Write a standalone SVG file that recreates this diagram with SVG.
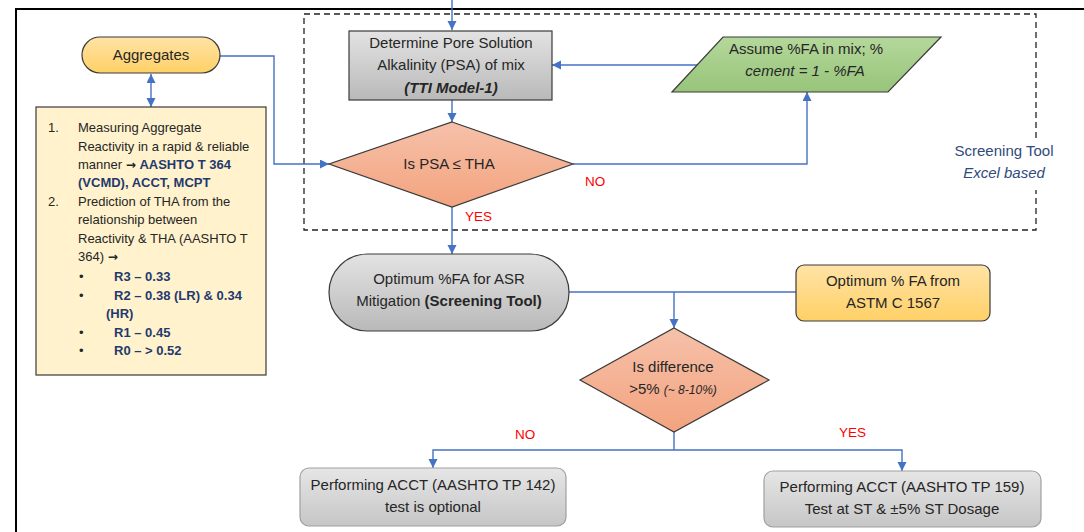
<svg xmlns="http://www.w3.org/2000/svg" width="1084" height="532" viewBox="0 0 1084 532">
  <style>
    .t { font-family: "Liberation Sans", Arial, sans-serif; fill: #262626; }
    .m { font-size: 15px; }
    .s { font-size: 13px; }
    .b { font-weight: bold; }
    .i { font-style: italic; }
    .hl { fill: #1F3A6E; font-weight: bold; }
    .ar { font-family: "DejaVu Sans", sans-serif; font-weight: bold; font-size: 12px; }
    .red { font-family: "Liberation Sans", Arial, sans-serif; font-size: 13.5px; fill: #FF0000; }
    .node { stroke: #3A3A3A; stroke-width: 1.2; }
    .soft { stroke: #A0A0A0; stroke-width: 1.2; }
    .conn { fill: none; stroke: #4472C4; stroke-width: 1.4; }
    .arr { marker-end: url(#ah); }
    .dash { fill: none; stroke: #222; stroke-width: 1.3; stroke-dasharray: 6 4; }
    .note { font-family: "Liberation Sans", Arial, sans-serif; font-size: 15px; fill: #2F4B7C; }
  </style>
  <defs>
    <marker id="ah" markerUnits="userSpaceOnUse" markerWidth="10" markerHeight="10" refX="9" refY="4.5" orient="auto-start-reverse">
      <path d="M0,0 L9,4.5 L0,9 z" fill="#4472C4"/>
    </marker>
    <linearGradient id="gYellow" x1="0" y1="0" x2="0" y2="1">
      <stop offset="0" stop-color="#FFE3A6"/>
      <stop offset="1" stop-color="#FFD066"/>
    </linearGradient>
    <linearGradient id="gGray" x1="0" y1="0" x2="0" y2="1">
      <stop offset="0" stop-color="#E3E3E3"/>
      <stop offset="1" stop-color="#B9B9B9"/>
    </linearGradient>
    <linearGradient id="gLight" x1="0" y1="0" x2="0" y2="1">
      <stop offset="0" stop-color="#E6E6E6"/>
      <stop offset="1" stop-color="#C6C6C6"/>
    </linearGradient>
    <linearGradient id="gSalmon" x1="0" y1="0" x2="0" y2="1">
      <stop offset="0" stop-color="#F6C1AA"/>
      <stop offset="1" stop-color="#F3A37E"/>
    </linearGradient>
    <linearGradient id="gGreen" x1="0" y1="0" x2="0" y2="1">
      <stop offset="0" stop-color="#B4D89B"/>
      <stop offset="1" stop-color="#98C47A"/>
    </linearGradient>
  </defs>

  <rect width="1084" height="532" fill="#FFFFFF"/>
  <!-- page frame -->
  <rect x="16" y="9" width="1100" height="560" fill="none" stroke="#000" stroke-width="2"/>

  <!-- screening tool boundary -->
  <g id="screening-tool">
    <path class="dash" d="M1036,138 V14 H304 V230 H1036 V190"/>
    <text class="note" x="1004" y="156" text-anchor="middle">Screening Tool</text>
    <text class="note i" x="1004" y="178" text-anchor="middle">Excel based</text>
  </g>

  <g id="connectors">
    <path class="conn arr" d="M452,0 V30"/>
    <path class="conn arr" d="M452,100 V122"/>
    <path class="conn arr" d="M220,56 H274 V164 H329"/>
    <path class="conn arr" d="M573,164 H807 V92"/>
    <path class="conn arr" d="M697,65 H552"/>
    <path class="conn arr" d="M452,207 V254"/>
    <path class="conn" d="M569,292 H796"/>
    <path class="conn arr" d="M674,292 V328"/>
    <path class="conn" d="M674,432 V450"/>
    <path class="conn arr" d="M674,450 H433 V468"/>
    <path class="conn arr" d="M674,450 H902 V471"/>
    <path class="conn arr" d="M151,74 V107" marker-start="url(#ah)"/>
    <text class="red" x="585" y="186">NO</text>
    <text class="red" x="465" y="221">YES</text>
    <text class="red" x="515" y="439">NO</text>
    <text class="red" x="839" y="437">YES</text>
  </g>

  <g id="aggregates">
    <rect class="node" x="82" y="37" width="138" height="36" rx="18" fill="url(#gYellow)"/>
    <text class="t m" x="151" y="60" text-anchor="middle">Aggregates</text>
  </g>

  <g id="reactivity-notes">
    <rect class="node" x="36" y="107" width="230" height="268" fill="#FFF2CC"/>
    <g class="t s">
      <text x="48" y="132">1.</text>
      <text x="78" y="132">Measuring  Aggregate</text>
      <text x="78" y="151">Reactivity in a rapid &amp; reliable</text>
      <text x="78" y="169">manner <tspan class="ar">→</tspan> <tspan class="hl">AASHTO T 364</tspan></text>
      <text x="78" y="187" class="hl">(VCMD), ACCT, MCPT</text>
      <text x="48" y="206">2.</text>
      <text x="78" y="206">Prediction of THA from the</text>
      <text x="78" y="224">relationship between</text>
      <text x="78" y="243">Reactivity &amp; THA (AASHTO T</text>
      <text x="78" y="261">364) <tspan class="ar">→</tspan></text>
      <text x="79" y="281">•</text>
      <text x="114" y="281" class="hl">R3 –  0.33</text>
      <text x="79" y="300">•</text>
      <text x="114" y="300" class="hl">R2 –  0.38 (LR) &amp; 0.34</text>
      <text x="106" y="318" class="hl">(HR)</text>
      <text x="79" y="337">•</text>
      <text x="114" y="337" class="hl">R1 –  0.45</text>
      <text x="79" y="355">•</text>
      <text x="114" y="355" class="hl">R0 – &gt; 0.52</text>
    </g>
  </g>

  <g id="psa">
    <rect class="node" x="349" y="31" width="203" height="69" fill="url(#gGray)"/>
    <text class="t m" x="451" y="48" text-anchor="middle">Determine Pore Solution</text>
    <text class="t m" x="451" y="70" text-anchor="middle">Alkalinity (PSA) of mix</text>
    <text class="t m b i" x="451" y="93" text-anchor="middle">(TTI Model-1)</text>
  </g>

  <g id="assume-fa">
    <polygon class="node" points="723,37 941,37 888,92 672,92" fill="url(#gGreen)"/>
    <text class="t m" x="806" y="54" text-anchor="middle">Assume %FA in mix; %</text>
    <text class="t m i" x="805" y="76" text-anchor="middle">cement = 1 - %FA</text>
  </g>

  <g id="psa-check">
    <polygon class="node" points="452,122 573,164 452,207 329,164" fill="url(#gSalmon)"/>
    <text class="t m" x="449" y="169" text-anchor="middle">Is PSA ≤ THA</text>
  </g>

  <g id="optimum-screening">
    <rect class="node" x="329" y="254" width="240" height="77" rx="38.5" fill="url(#gGray)"/>
    <text class="t m" x="449" y="284" text-anchor="middle">Optimum %FA for ASR</text>
    <text class="t m" x="449" y="306" text-anchor="middle">Mitigation <tspan class="b">(Screening Tool)</tspan></text>
  </g>

  <g id="optimum-astm">
    <rect class="node" x="796" y="265" width="194" height="56" rx="8" fill="url(#gYellow)"/>
    <text class="t m" x="893" y="286" text-anchor="middle">Optimum % FA from</text>
    <text class="t m" x="893" y="308" text-anchor="middle">ASTM C 1567</text>
  </g>

  <g id="difference-check">
    <polygon class="node" points="674,328 769,380 674,432 580,380" fill="url(#gSalmon)"/>
    <text class="t m" x="673" y="372" text-anchor="middle">Is difference</text>
    <text class="t m" x="673" y="394" text-anchor="middle">&gt;5% <tspan class="i" font-size="12">(~ 8-10%)</tspan></text>
  </g>

  <g id="acct-optional">
    <rect class="soft" x="300" y="468" width="266" height="58" rx="9" fill="url(#gLight)"/>
    <text class="t m" x="433" y="490" text-anchor="middle">Performing ACCT (AASHTO TP 142)</text>
    <text class="t m" x="433" y="512" text-anchor="middle">test  is optional</text>
  </g>

  <g id="acct-dosage">
    <rect class="soft" x="764" y="471" width="277" height="56" rx="9" fill="url(#gLight)"/>
    <text class="t m" x="902" y="492" text-anchor="middle">Performing ACCT (AASHTO TP 159)</text>
    <text class="t m" x="902" y="514" text-anchor="middle">Test at ST &amp; ±5% ST Dosage</text>
  </g>
</svg>
